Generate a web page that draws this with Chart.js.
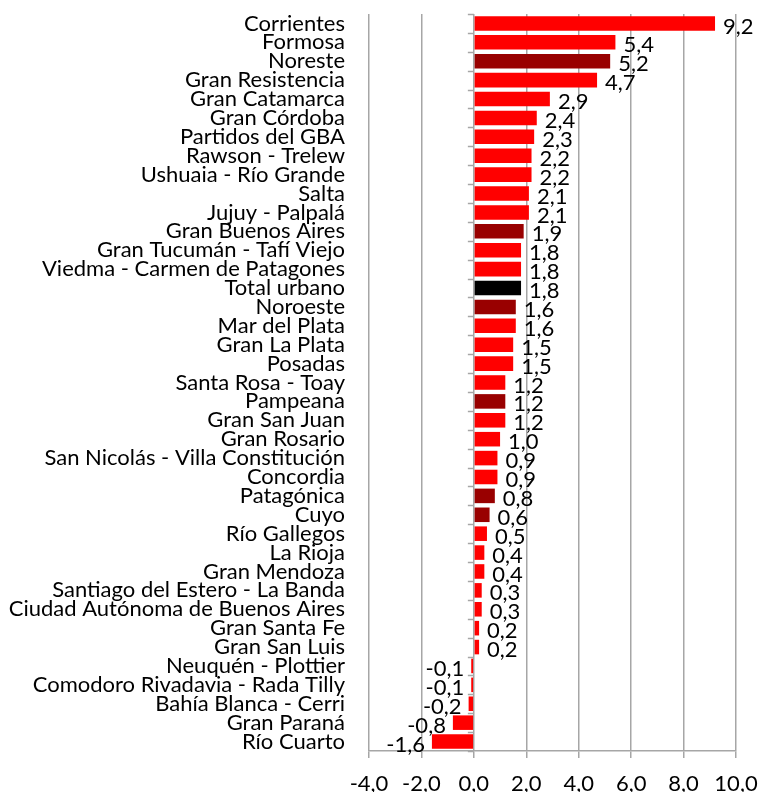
<!DOCTYPE html>
<html>
<head>
<meta charset="utf-8">
<script src="https://cdn.jsdelivr.net/npm/chart.js@4.4.1/dist/chart.umd.min.js"></script>
<style>
  html, body { margin: 0; padding: 0; background: #fff; }
  #wrap { width: 758px; height: 792px; position: relative; }
</style>
</head>
<body>
<div id="wrap"><canvas id="chart"></canvas></div>
<script>
// categorías (de arriba hacia abajo)
const categorias = [
  'Corrientes', 'Formosa', 'Noreste', 'Gran Resistencia', 'Gran Catamarca',
  'Gran Córdoba', 'Partidos del GBA', 'Rawson - Trelew', 'Ushuaia - Río Grande',
  'Salta', 'Jujuy - Palpalá', 'Gran Buenos Aires', 'Gran Tucumán - Tafí Viejo',
  'Viedma - Carmen de Patagones', 'Total urbano', 'Noroeste', 'Mar del Plata',
  'Gran La Plata', 'Posadas', 'Santa Rosa - Toay', 'Pampeana', 'Gran San Juan',
  'Gran Rosario', 'San Nicolás - Villa Constitución', 'Concordia', 'Patagónica',
  'Cuyo', 'Río Gallegos', 'La Rioja', 'Gran Mendoza', 'Santiago del Estero - La Banda',
  'Ciudad Autónoma de Buenos Aires', 'Gran Santa Fe', 'Gran San Luis',
  'Neuquén - Plottier', 'Comodoro Rivadavia - Rada Tilly', 'Bahía Blanca - Cerri',
  'Gran Paraná', 'Río Cuarto'
];

const valores = [
  9.2, 5.4, 5.2, 4.7, 2.9,
  2.4, 2.3, 2.2, 2.2,
  2.1, 2.1, 1.9, 1.8,
  1.8, 1.8, 1.6, 1.6,
  1.5, 1.5, 1.2, 1.2, 1.2,
  1.0, 0.9, 0.9, 0.8,
  0.6, 0.5, 0.4, 0.4, 0.3,
  0.3, 0.2, 0.2,
  -0.1, -0.1, -0.2,
  -0.8, -1.6
];

// regiones (barras en rojo oscuro) y total
const regiones = ['Noreste', 'Gran Buenos Aires', 'Noroeste', 'Pampeana', 'Patagónica', 'Cuyo'];
const totales = ['Total urbano'];

const ticksX = [-4, -2, 0, 2, 4, 6, 8, 10];

const FONT = 'Lato, "Open Sans", sans-serif';
const GRIS = '#a6a6a6';
const fmt = v => v.toFixed(1).replace('.', ',');

const colores = categorias.map(c =>
  totales.includes(c) ? '#000000' : regiones.includes(c) ? '#990000' : '#ff0000');

// etiquetas de valor + marcas en el eje 0
const etiquetas = {
  id: 'etiquetas',
  beforeDatasetsDraw(chart) {
    const { ctx, chartArea, scales } = chart;
    const x0 = scales.x.getPixelForValue(0);
    const band = (chartArea.bottom - chartArea.top) / categorias.length;
    ctx.save();
    ctx.strokeStyle = GRIS;
    ctx.lineWidth = 1.5;
    for (let i = 0; i <= categorias.length; i++) {
      const y = Math.round(chartArea.top + i * band) + 0.5;
      ctx.beginPath();
      ctx.moveTo(x0 - 6, y);
      ctx.lineTo(x0, y);
      ctx.stroke();
    }
    ctx.restore();
  },
  afterDatasetsDraw(chart) {
    const { ctx } = chart;
    const meta = chart.getDatasetMeta(0);
    ctx.save();
    ctx.font = '22px ' + FONT;
    ctx.fillStyle = '#000';
    ctx.textBaseline = 'middle';
    meta.data.forEach((bar, i) => {
      const v = valores[i];
      if (v >= 0) {
        ctx.textAlign = 'left';
        ctx.fillText(fmt(v), bar.x + 8, bar.y + 3);
      } else {
        ctx.textAlign = 'right';
        ctx.fillText(fmt(v), bar.x - 7, bar.y + 3);
      }
    });
    ctx.restore();
  }
};

new Chart(document.getElementById('chart'), {
  type: 'bar',
  data: {
    labels: categorias,
    datasets: [{
      data: valores,
      backgroundColor: colores,
      barPercentage: 0.77,
      categoryPercentage: 1
    }]
  },
  options: {
    indexAxis: 'y',
    responsive: true,
    maintainAspectRatio: false,
    animation: false,
    layout: { padding: { top: 14, right: 22, bottom: 0, left: 0 } },
    plugins: {
      legend: { display: false },
      tooltip: { enabled: false }
    },
    scales: {
      x: {
        min: -4,
        max: 10,
        afterBuildTicks: s => { s.ticks = ticksX.map(v => ({ value: v })); },
        afterFit: s => { s.height = 41; s.paddingLeft = 0; s.paddingRight = 0; },
        grid: { color: GRIS, lineWidth: 1.5, tickLength: 7, tickColor: GRIS },
        border: { display: true, color: GRIS, width: 1.5 },
        ticks: {
          padding: 13,
          color: '#000',
          font: { family: FONT, size: 22 },
          callback: v => fmt(v)
        }
      },
      y: {
        afterFit: s => { s.width = 369; s.paddingTop = 0; s.paddingBottom = 0; },
        grid: { display: false },
        border: { display: false },
        ticks: {
          padding: 16,
          autoSkip: false,
          color: '#000',
          font: { family: FONT, size: 22 }
        }
      }
    }
  },
  plugins: [etiquetas]
});
</script>
</body>
</html>
